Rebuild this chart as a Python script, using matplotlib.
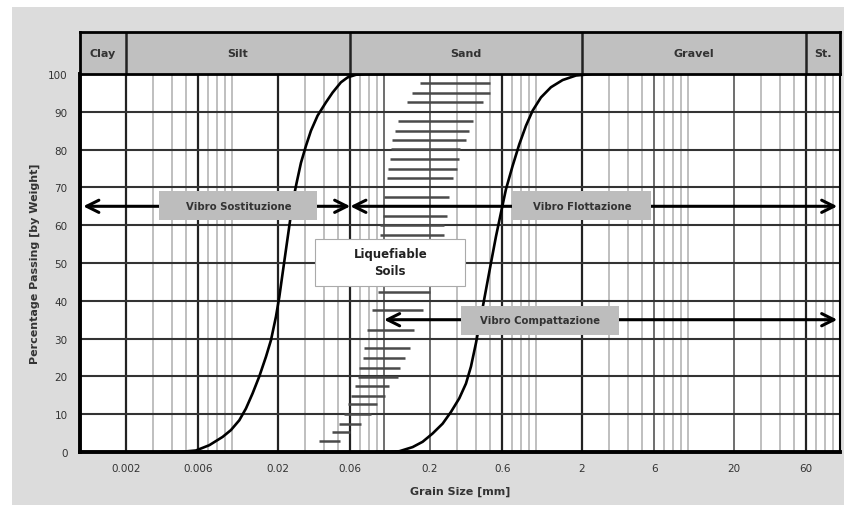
import matplotlib.pyplot as plt
import numpy as np
from matplotlib.patches import Rectangle

# grading curves (grain size mm, % passing)
fine_d = [0.0035, 0.0045, 0.00579, 0.00709, 0.00868, 0.00984, 0.01117, 0.01235, 0.01366, 0.01512,
          0.01673, 0.01805, 0.01946, 0.02047, 0.02153, 0.02264, 0.02381, 0.02505, 0.02661, 0.02842,
          0.03066, 0.03307, 0.03658, 0.0415, 0.04592, 0.05208, 0.05762, 0.06537, 0.07606, 0.1]
fine_p = [0, 0, 0.4, 1.8, 4, 5.8, 8.4, 11.5, 15.5, 20,
          25.2, 29.6, 35.8, 41, 47.3, 53.5, 59.7, 66, 71.2, 76.5,
          81, 85, 89, 92.5, 95.1, 97.8, 99.1, 99.8, 100, 100]
coarse_d = [0.09, 0.103, 0.1261, 0.1543, 0.1795, 0.2089, 0.2431, 0.2758, 0.3128, 0.3461,
            0.3733, 0.4027, 0.4344, 0.4686, 0.5054, 0.5452, 0.588, 0.6343, 0.7018, 0.7762,
            0.8587, 0.9502, 1.0779, 1.2542, 1.4967, 1.8323, 2.3583, 3.5]
coarse_p = [0, 0, 0.2, 1.3, 2.7, 4.9, 7.5, 10.6, 14.2, 18.1,
            22.6, 28.8, 35.8, 42.9, 50, 57, 63.3, 69.5, 75.7, 81.4,
            86.3, 90.3, 93.8, 96.5, 98.4, 99.6, 100, 100]

# liquefiable soils band: level, left and right grain size
band_y = [97.6, 94.9, 92.7, 87.5, 85.0, 82.5, 80.2, 77.5, 75.0, 72.5, 67.4, 62.5, 60.1, 57.5,
          42.4, 37.6, 32.3, 27.6, 24.9, 22.3, 19.9, 17.5, 14.9, 12.7, 10.1, 7.4, 5.2, 2.8]
band_lo = [0.1725, 0.1528, 0.1408, 0.1229, 0.1186, 0.1128, 0.1112, 0.1095, 0.1056, 0.104,
           0.1004, 0.0989, 0.0941, 0.0941, 0.0907, 0.0834, 0.0768, 0.0742, 0.0723, 0.068,
           0.067, 0.0647, 0.0606, 0.0576, 0.0548, 0.0508, 0.0457, 0.0371]
band_hi = [0.495, 0.495, 0.4452, 0.3826, 0.364, 0.3463, 0.316, 0.3095, 0.3002, 0.2856,
           0.266, 0.258, 0.2492, 0.2492, 0.2007, 0.1814, 0.1583, 0.1489, 0.138, 0.1274,
           0.1229, 0.1083, 0.102, 0.0894, 0.0821, 0.0706, 0.06, 0.0513]

# soil classes in the header row
class_names = ['Clay', 'Silt', 'Sand', 'Gravel', 'St.']
class_edges = [0.001, 0.002, 0.06, 2, 60, 100]

xticks = [0.002, 0.006, 0.02, 0.06, 0.2, 0.6, 2, 6, 20, 60]
xticklabels = ['0.002', '0.006', '0.02', '0.06', '0.2', '0.6', '2', '6', '20', '60']

fig = plt.figure(figsize=(8.45, 5.06), dpi=100)
fig.patch.set_facecolor('white')
fig.patches.append(Rectangle((12 / 845, 0), 1, (506 - 8) / 506, transform=fig.transFigure,
                             facecolor='#dcdcdc', edgecolor='none', zorder=-10))

ax = fig.add_axes([80 / 845, 53 / 506, 760 / 845, 378 / 506])
hx = fig.add_axes([80 / 845, 431 / 506, 760 / 845, 42 / 506])

ax.set_xscale('log')
ax.set_xlim(0.001, 100)
ax.set_ylim(0, 100)
ax.set_facecolor('white')

# log grid
for k in range(-3, 2):
    for m in range(1, 10):
        v = m * 10.0 ** k
        if v <= 0.001 or v >= 100:
            continue
        if any(np.isclose(v, t) for t in [0.002, 0.006, 0.02, 0.06, 0.6, 2, 60]):
            ax.axvline(v, color='#222222', lw=1.6, zorder=1)
        elif any(np.isclose(v, t) for t in [0.2, 6, 20, 0.1]):
            ax.axvline(v, color='#555555', lw=1.2, zorder=1)
        else:
            ax.axvline(v, color='#b4b4b4', lw=1.2, zorder=1)
for yv in range(10, 100, 10):
    ax.axhline(yv, color='#333333', lw=1.5, zorder=1)

ax.hlines(band_y, band_lo, band_hi, color='#4a4a4a', lw=1.8, zorder=2)

ax.plot(fine_d, fine_p, color='black', lw=1.9, zorder=4)
ax.plot(coarse_d, coarse_p, color='black', lw=1.9, zorder=4)

# method ranges
arrow = dict(arrowstyle='<->', color='black', lw=2.2, mutation_scale=22, shrinkA=0, shrinkB=0)
ax.annotate('', xy=(0.00105, 65), xytext=(0.06, 65), arrowprops=arrow, zorder=5)
ax.annotate('', xy=(0.06, 65), xytext=(96, 65), arrowprops=arrow, zorder=5)
ax.annotate('', xy=(0.1, 35), xytext=(96, 35), arrowprops=arrow, zorder=5)

# label boxes: (x0, x1, y0, y1)
for x0, x1, y0, y1, fc, ec in [(0.00332, 0.0364, 61.4, 69.0, '#bdbdbd', 'none'),
                               (0.698, 5.73, 61.4, 69.0, '#bdbdbd', 'none'),
                               (0.3225, 3.53, 31.0, 38.6, '#bdbdbd', 'none'),
                               (0.0354, 0.3426, 43.9, 56.3, 'white', '#aaaaaa')]:
    ax.add_patch(Rectangle((x0, y0), x1 - x0, y1 - y0, facecolor=fc, edgecolor=ec, lw=0.8, zorder=6))

ax.text(0.0110, 65.2, 'Vibro Sostituzione', ha='center', va='center', fontsize=7.3,
        fontweight='bold', color='#333333', zorder=7)
ax.text(2.0, 65.2, 'Vibro Flottazione', ha='center', va='center', fontsize=7.3,
        fontweight='bold', color='#333333', zorder=7)
ax.text(1.07, 34.8, 'Vibro Compattazione', ha='center', va='center', fontsize=7.3,
        fontweight='bold', color='#333333', zorder=7)
ax.text(0.11, 50.3, 'Liquefiable\nSoils', ha='center', va='center', fontsize=8.5,
        fontweight='bold', color='#222222', linespacing=1.35, zorder=7)

ax.set_xticks(xticks)
ax.set_xticklabels(xticklabels)
ax.xaxis.set_minor_locator(plt.NullLocator())
ax.set_yticks(range(0, 101, 10))
ax.tick_params(axis='both', length=0, labelsize=7.5, labelcolor='#333333')
ax.tick_params(axis='x', pad=8)
ax.tick_params(axis='y', pad=9)
ax.set_xlabel('Grain Size [mm]', fontsize=8, fontweight='bold', color='#333333', labelpad=9)
ax.set_ylabel('Percentage Passing [by Weight]', fontsize=8, fontweight='bold', color='#333333',
              labelpad=6)
for s in ['left', 'bottom']:
    ax.spines[s].set_linewidth(2.8)
for s in ['top', 'right']:
    ax.spines[s].set_linewidth(1.5)

# header row
hx.set_xscale('log')
hx.set_xlim(0.001, 100)
hx.set_ylim(0, 1)
hx.set_facecolor('#c0c0c0')
hx.set_xticks([])
hx.set_yticks([])
hx.xaxis.set_minor_locator(plt.NullLocator())
for s in hx.spines.values():
    s.set_linewidth(2)
for i, name in enumerate(class_names):
    xc = np.sqrt(class_edges[i] * class_edges[i + 1])
    hx.text(xc, 0.5, name, ha='center', va='center', fontsize=8, fontweight='bold', color='#333333')
    if i > 0:
        hx.axvline(class_edges[i], color='#222222', lw=1.8)

fig.savefig('out.png', dpi=100, facecolor=fig.get_facecolor())
